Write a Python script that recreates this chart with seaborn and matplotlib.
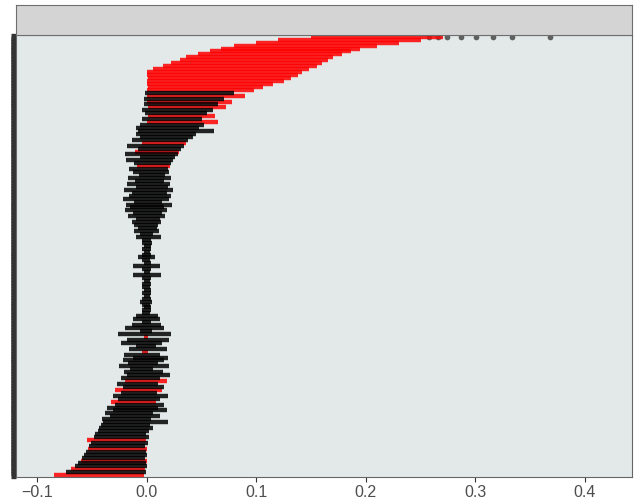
import numpy as np
import pandas as pd
import matplotlib
matplotlib.use('Agg')
import matplotlib.pyplot as plt
import seaborn as sns

# interval ends, top row first (rows sorted by estimate)
lower = [0.150, 0.120, 0.100, 0.080, 0.068, 0.058, 0.047, 0.036, 0.030, 0.022, 0.015, 0.006, 0.000,
         0.000, 0.001, 0.000, 0.000, 0.001, 0.000, -0.002, 0.000, -0.003, 0.000, -0.003, 0.001, -0.004,
         -0.002, 0.001, -0.004, 0.000, -0.006, -0.010, -0.008,
         -0.010, -0.006, -0.014, -0.004, -0.018, -0.008, -0.011, -0.020, -0.006, -0.019, -0.012, -0.009,
         -0.016, -0.013, -0.007, -0.017, -0.011, -0.018, -0.010, -0.021, -0.014, -0.016, -0.022, -0.012,
         -0.019, -0.015, -0.020, -0.013, -0.017, -0.010, -0.014, -0.012, -0.008,
         -0.012, -0.006, -0.010, -0.004, -0.004, -0.003, -0.004, -0.003, -0.004, -0.008, -0.004, -0.003,
         -0.013, -0.004, -0.003, -0.013, -0.004, -0.003, -0.004, -0.004, -0.003, -0.004, -0.003, -0.004,
         -0.006, -0.004, -0.003, -0.004, -0.004, -0.010, -0.013, -0.004,
         -0.014, -0.020, -0.006, -0.026, -0.003, -0.018, -0.024, -0.010, -0.016, -0.004, -0.021, -0.013,
         -0.022, -0.017, -0.025, -0.015, -0.021, -0.018, -0.024, -0.020, -0.027, -0.022, -0.029, -0.024,
         -0.031, -0.026, -0.033, -0.029, -0.036, -0.031, -0.038, -0.034, -0.041,
         -0.040, -0.042, -0.044, -0.045, -0.047, -0.048, -0.055, -0.051, -0.053, -0.054, -0.056, -0.057,
         -0.059, -0.060, -0.063, -0.066, -0.069, -0.074, -0.085]

upper = [0.270, 0.250, 0.230, 0.210, 0.195, 0.186, 0.178, 0.170, 0.165, 0.160, 0.155, 0.148, 0.142,
         0.138, 0.132, 0.125, 0.115, 0.106, 0.098, 0.080, 0.090, 0.070, 0.078, 0.065, 0.072, 0.060,
         0.055, 0.062, 0.050, 0.065, 0.052, 0.048, 0.061,
         0.045, 0.042, 0.038, 0.036, 0.034, 0.031, 0.029, 0.028, 0.026, 0.024, 0.022, 0.021,
         0.019, 0.020, 0.017, 0.022, 0.016, 0.021, 0.019, 0.024, 0.018, 0.022, 0.020, 0.014,
         0.023, 0.016, 0.018, 0.014, 0.017, 0.012, 0.013, 0.010, 0.009,
         0.011, 0.006, 0.013, 0.004, 0.005, 0.004, 0.004, 0.003, 0.004, 0.007, 0.003, 0.004,
         0.012, 0.004, 0.003, 0.013, 0.004, 0.003, 0.004, 0.003, 0.004, 0.004, 0.003, 0.004,
         0.005, 0.003, 0.004, 0.004, 0.003, 0.010, 0.012, 0.004,
         0.013, 0.016, 0.005, 0.022, 0.001, 0.020, 0.014, 0.008, 0.018, 0.001, 0.012, 0.019,
         0.016, 0.010, 0.020, 0.006, 0.015, 0.021, 0.012, 0.018, 0.010, 0.016, 0.014, 0.009,
         0.019, 0.012, 0.008, 0.016, 0.010, 0.018, 0.006, 0.012, 0.004,
         0.019, 0.003, 0.006, 0.002, -0.001, 0.002, -0.001, 0.001, -0.002, 0.000, -0.001, 0.000,
         -0.002, 0.000, -0.001, 0.000, -0.002, -0.001, -0.003]

# 1 = significant (red), 0 = not significant (black)
signif = [1] * 13 + \
         [1, 1, 1, 1, 1, 1, 0, 1, 0, 1, 0, 1, 0] + \
         [0, 1, 0, 1, 0, 0, 0] + \
         [0, 0, 0, 1, 0, 0, 1, 0, 0, 0, 0, 1] + [0] * 21 + \
         [0] * 32 + \
         [0, 0, 0, 0, 1, 0, 0, 0, 0, 1, 0, 0, 0, 0, 0, 0, 0, 0, 0, 1, 0, 0, 1, 0, 0, 0, 1, 0, 0, 0, 0, 0, 0] + \
         [0, 0, 0, 0, 0, 0, 1, 0, 0, 1, 0, 0, 0, 1, 0, 0, 1, 0, 1]

# outlying point estimates in the top row
top_points = [0.258, 0.266, 0.274, 0.287, 0.301, 0.316, 0.333, 0.368]

x_ticks = [-0.1, 0.0, 0.1, 0.2, 0.3, 0.4]
x_labels = ['\u22120.1', '0.0', '0.1', '0.2', '0.3', '0.4']

n = len(lower)
rows = np.arange(1, n + 1)
df = pd.DataFrame({'row': np.repeat(rows, 2),
                   'x': np.column_stack([lower, upper]).ravel(),
                   'sig': np.repeat(signif, 2)})

sns.set_theme(style='white')
plt.rcParams['font.family'] = ['Liberation Sans', 'DejaVu Sans']

fig = plt.figure(figsize=(6.36, 5.04), dpi=100)
ax = fig.add_axes([16 / 636, 1 - 477 / 504, 616 / 636, 442 / 504])
strip = fig.add_axes([16 / 636, 1 - 35 / 504, 616 / 636, 30 / 504])

ax.set_facecolor('#e3e9e9')
row_pt = 442 / (n + 0.2) * 0.72

# red intervals first, black drawn over them
for level, col in [(1, 'red'), (0, 'black')]:
    sns.lineplot(data=df[df['sig'] == level], x='x', y='row', units='row',
                 estimator=None, color=col, sort=False, linewidth=row_pt * 1.5,
                 alpha=0.85, legend=False, ax=ax, solid_capstyle='butt')
sns.scatterplot(x=top_points, y=[1] * len(top_points), color='#333333', s=14,
                alpha=0.75, edgecolor=None, ax=ax)

ax.set_xlim(-0.1195, 0.443)
ax.set_ylim(n + 0.6, 0.4)
ax.set_yticks(rows)
ax.set_yticklabels([])
ax.set_xticks(x_ticks)
ax.set_xticklabels(x_labels)
ax.tick_params(axis='y', left=True, length=3.3, width=row_pt * 2.5, color='#333333')
ax.tick_params(axis='x', bottom=True, length=3.5, width=0.8, color='#333333',
               labelsize=11.5, labelcolor='#4d4d4d', pad=2)
ax.set_xlabel('')
ax.set_ylabel('')
ax.grid(False)
for s in ax.spines.values():
    s.set_color('#666666')
    s.set_linewidth(0.8)

strip.set_facecolor('#d4d4d4')
strip.set_xticks([])
strip.set_yticks([])
for s in strip.spines.values():
    s.set_color('#6e6e6e')
    s.set_linewidth(0.8)

fig.savefig('out.png', dpi=100)
